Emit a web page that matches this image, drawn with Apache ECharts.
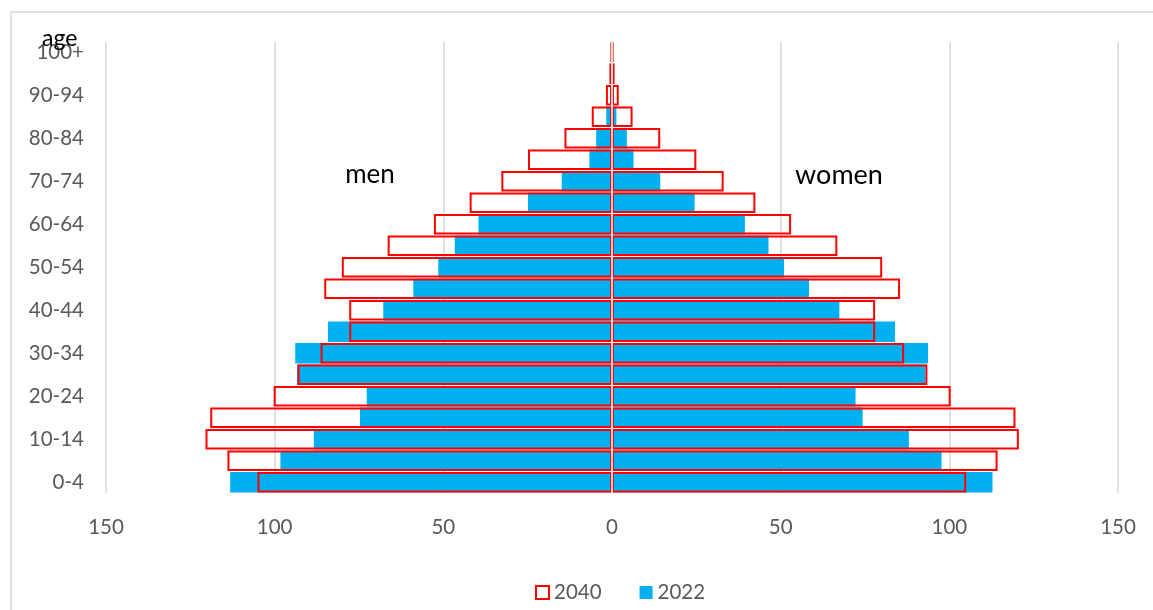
<!DOCTYPE html>
<html>
<head>
<meta charset="utf-8">
<title>Population pyramid 2022 / 2040</title>
<script src="https://cdn.jsdelivr.net/npm/echarts@6/dist/echarts.min.js"></script>
<style>
  html, body { margin: 0; padding: 0; background: #fff; }
  #chart { width: 1153px; height: 610px; }
</style>
</head>
<body>
<div id="chart"></div>
<script>
// Age groups, bottom to top
const ageGroups = ['0-4', '5-9', '10-14', '15-19', '20-24', '25-29', '30-34', '35-39', '40-44', '45-49',
  '50-54', '55-59', '60-64', '65-69', '70-74', '75-79', '80-84', '85-89', '90-94', '95-99', '100+'];

// Population per age group (thousands)
const men2022 = [113.2, 98.3, 88.4, 74.7, 72.7, 93.4, 93.9, 84.2, 67.8, 58.9, 51.5, 46.6, 39.6, 24.9, 14.9, 6.7, 4.7, 1.7, 0.6, 0.2, 0.1];
const women2022 = [112.8, 97.7, 88.0, 74.3, 72.2, 92.9, 93.7, 83.9, 67.4, 58.4, 51.0, 46.4, 39.4, 24.5, 14.3, 6.4, 4.4, 1.3, 0.5, 0.2, 0.1];
const men2040 = [105.1, 114.0, 120.5, 119.1, 100.3, 93.2, 86.4, 77.9, 77.9, 85.3, 80.1, 66.5, 52.8, 42.2, 32.8, 24.9, 14.1, 6.0, 1.8, 0.75, 0.35];
const women2040 = [105.0, 114.3, 120.6, 119.6, 100.4, 93.5, 86.6, 78.0, 78.0, 85.4, 80.1, 66.8, 53.1, 42.5, 33.1, 25.0, 14.3, 6.1, 2.0, 0.75, 0.35];

// Value axis ticks (men drawn to the left as negatives)
const axisMin = -150;
const axisMax = 150;
const axisStep = 50;

const FONT = 'Lato, "Open Sans", sans-serif';
const GREY = '#595959';
const GRID_GREY = '#d9d9d9';
const BLUE = '#00B0F0';
const RED = '#FF0000';

const chart = echarts.init(document.getElementById('chart'));

const filledBar = (name, data) => ({
  name, type: 'bar', data,
  barGap: '-100%', barCategoryGap: '4%',
  itemStyle: { color: BLUE },
  emphasis: { disabled: true },
  z: 2
});

const outlineBar = (name, data) => ({
  name, type: 'bar', data,
  barGap: '-100%', barCategoryGap: '4%',
  itemStyle: { color: 'rgba(0,0,0,0)', borderColor: RED, borderWidth: 2 },
  emphasis: { disabled: true },
  z: 3
});

const womenOutline = outlineBar('2040', women2040);
// centre line at zero, drawn above the bars
womenOutline.markLine = {
  silent: true,
  symbol: 'none',
  label: { show: false },
  emphasis: { disabled: true },
  lineStyle: { color: GRID_GREY, width: 2, type: 'solid' },
  data: [{ xAxis: 0 }]
};

chart.setOption({
  animation: false,
  backgroundColor: '#fff',
  textStyle: { fontFamily: FONT },
  grid: { left: 106, right: 35, top: 41.5, bottom: 117 },
  xAxis: {
    type: 'value',
    min: axisMin, max: axisMax, interval: axisStep,
    axisLine: { show: false },
    axisTick: { show: false },
    axisLabel: {
      color: GREY, fontSize: 20.5, fontFamily: FONT, margin: 24,
      formatter: v => String(Math.abs(v))
    },
    splitLine: { show: true, lineStyle: { color: GRID_GREY, width: 1.5 } }
  },
  yAxis: {
    type: 'category',
    data: ageGroups,
    axisLine: { show: false },
    axisTick: { show: false },
    axisLabel: { color: GREY, fontSize: 20.5, fontFamily: FONT, margin: 22, interval: 1 },
    splitLine: { show: false }
  },
  legend: {
    data: [
      { name: '2040', itemStyle: { color: '#fff', borderColor: RED, borderWidth: 2 } },
      { name: '2022', itemStyle: { color: BLUE } }
    ],
    left: 530, top: 577,
    icon: 'rect',
    itemWidth: 13, itemHeight: 13, itemGap: 38,
    selectedMode: false,
    textStyle: { color: GREY, fontSize: 20.5, fontFamily: FONT }
  },
  graphic: [
    {
      type: 'rect', silent: true,
      shape: { x: 11, y: 12, width: 1400, height: 900 },
      style: { fill: 'none', stroke: GRID_GREY, lineWidth: 1.5 }
    },
    {
      type: 'text', x: 42, y: 39, z: 10,
      style: { text: 'age', fill: '#000', font: '23px ' + FONT, align: 'left', verticalAlign: 'middle' }
    },
    {
      type: 'text', x: 370, y: 175,
      style: { text: 'men', fill: '#000', font: '26px ' + FONT, align: 'center', verticalAlign: 'middle' }
    },
    {
      type: 'text', x: 839, y: 175,
      style: { text: 'women', fill: '#000', font: '27px ' + FONT, align: 'center', verticalAlign: 'middle' }
    }
  ],
  series: [
    filledBar('2022', men2022.map(v => -v)),
    filledBar('2022', women2022),
    outlineBar('2040', men2040.map(v => -v)),
    womenOutline
  ]
});
</script>
</body>
</html>
